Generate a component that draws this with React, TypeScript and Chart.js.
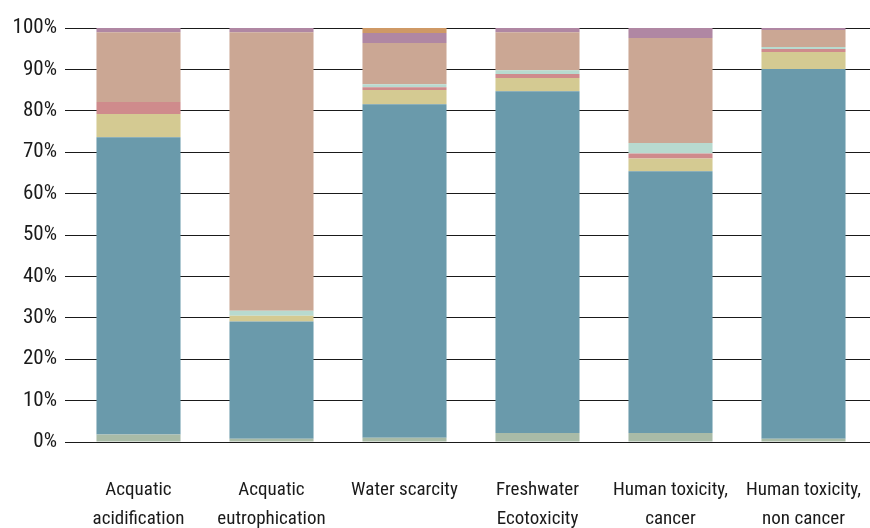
import React, { useEffect, useRef } from "react";
import { Chart, registerables } from "chart.js";

Chart.register(...registerables);

const categories: string[][] = [
  ["Acquatic", "acidification"],
  ["Acquatic", "eutrophication"],
  ["Water scarcity"],
  ["Freshwater", "Ecotoxicity"],
  ["Human toxicity,", "cancer"],
  ["Human toxicity,", "non cancer"],
];

const seriesNames = ["S1", "S2", "S3", "S4", "S5", "S6", "S7", "S8"];
const s1 = [1.8, 0.8, 1.0, 2.2, 2.2, 0.8];
const s2 = [71.8, 28.3, 80.6, 82.5, 63.2, 89.3];
const s3 = [5.6, 1.4, 3.4, 3.2, 3.1, 4.1];
const s4 = [2.9, 0, 0.7, 1.0, 1.2, 0.7];
const s5 = [0, 1.2, 0.7, 0.9, 2.5, 0.5];
const s6 = [16.9, 67.3, 10.0, 9.2, 25.4, 4.1];
const s7 = [1.0, 1.0, 2.4, 1.0, 2.4, 0.5];
const s8 = [0, 0, 1.2, 0, 0, 0];
const seriesValues = [s1, s2, s3, s4, s5, s6, s7, s8];
const seriesColors = ["#a9bba7", "#6a9aab", "#d4ca92", "#cf8b8c", "#b8dacf", "#cba794", "#b087a3", "#cf9966"];

const FONT = "'Roboto Condensed', sans-serif";

export default function App() {
  const ref = useRef<HTMLCanvasElement | null>(null);
  useEffect(() => {
    if (!ref.current) return;
    const chart = new Chart(ref.current, {
      type: "bar",
      data: {
        labels: categories,
        datasets: seriesValues.map((vals, i) => ({
          label: seriesNames[i],
          data: vals,
          backgroundColor: seriesColors[i],
          borderWidth: 0,
          barPercentage: 0.632,
          categoryPercentage: 1,
        })),
      },
      options: {
        animation: false,
        responsive: false,
        maintainAspectRatio: false,
        layout: { padding: { top: 28, right: 0, left: 0, bottom: 0 } },
        plugins: { legend: { display: false }, tooltip: { enabled: false } },
        scales: {
          x: {
            stacked: true,
            grid: { display: false, drawTicks: false },
            border: { display: false },
            ticks: {
              color: "#1a1a1a",
              font: { family: FONT, size: 19, lineHeight: 1.5 },
              padding: 34,
              maxRotation: 0,
              autoSkip: false,
            },
            afterFit: (s: any) => { s.height = 86; s.paddingLeft = 0; s.paddingRight = 0; },
          },
          y: {
            stacked: true,
            min: 0,
            max: 100,
            border: { display: false },
            grid: { color: "#1a1a1a", lineWidth: 1, tickLength: 7, drawTicks: true, tickColor: "#1a1a1a" },
            ticks: {
              stepSize: 10,
              color: "#1a1a1a",
              padding: 8,
              font: { family: FONT, size: 21 },
              callback: (v: any) => v + "%",
            },
            afterFit: (s: any) => { s.width = 72; s.paddingTop = 0; s.paddingBottom = 0; },
          },
        },
      },
    });
    return () => chart.destroy();
  }, []);
  return (
    <div style={{ position: "fixed", left: 0, top: 0, width: 870, height: 528, background: "#fff" }}>
      <canvas ref={ref} width={870} height={528} style={{ display: "block" }} />
    </div>
  );
}
